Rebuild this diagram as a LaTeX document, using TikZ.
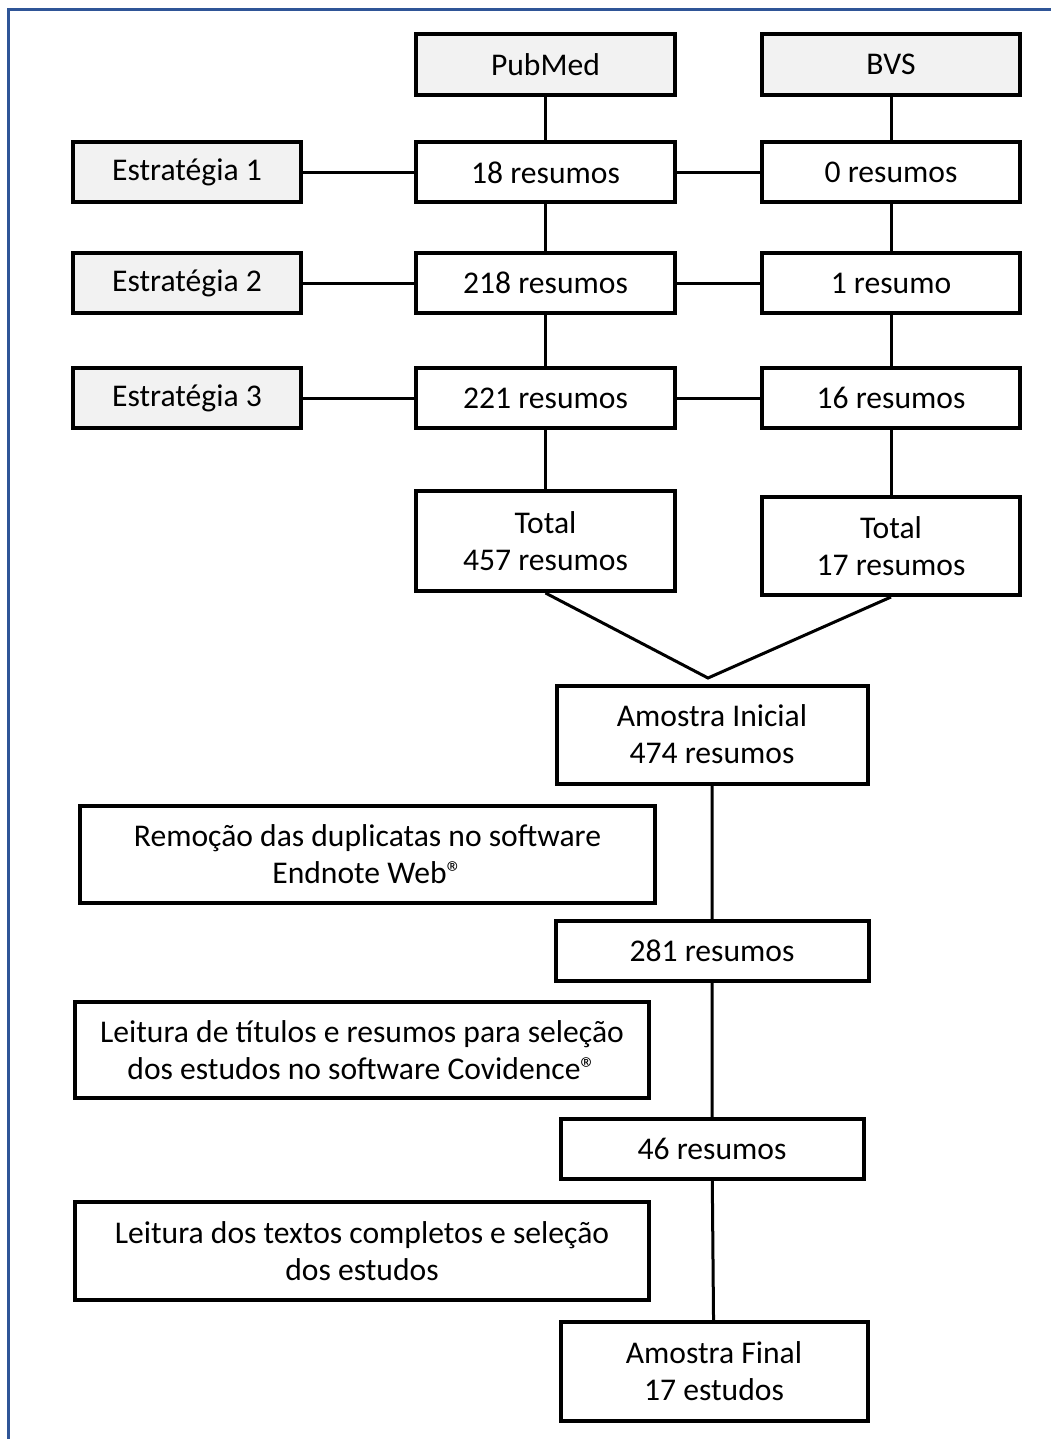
\documentclass[tikz,border=0pt]{standalone}
\usepackage{fontspec}
\setmainfont{Carlito}
\usepackage{tikz}
\definecolor{frameblue}{HTML}{2F5597}
\definecolor{basegray}{HTML}{F2F2F2}
\tikzstyle{box} = [draw=black, line width=2pt, fill=white, rectangle, align=center, inner sep=0pt,
,font=\fontsize{15.8}{18.6}\selectfont]
\tikzstyle{base} = [box, fill=basegray]
\tikzstyle{link} = [line width=1.5pt]

\begin{document}
\begin{tikzpicture}[x=0.5pt,y=-0.5pt]
                        \useasboundingbox (0,0) rectangle (1051,1439);
                        \draw[frameblue, line width=1.5pt] (8,1439) |- (1051,10);
                        % bases
                        \node[base, minimum width=129.5pt, minimum height=30.5pt] (pubmed)
                            at (545.5,64.5) {PubMed};
                        \node[base, minimum width=129pt, minimum height=30.5pt] (bvs)
                            at (891,64.5) {BVS};
                        % estrategias
                        \node[base, minimum width=114pt, minimum height=30pt] (est1)
                            at (187,172.5) {Estratégia 1};
                        \node[base, minimum width=114pt, minimum height=30pt] (est2)
                            at (187,283) {Estratégia 2};
                        \node[base, minimum width=114pt, minimum height=30pt] (est3)
                            at (187,398) {Estratégia 3};
                        \node[box, minimum width=129.5pt, minimum height=30pt] (pm1)
                            at (545.5,172.5) {18 resumos};
                        \node[box, minimum width=129.5pt, minimum height=30pt] (pm2)
                            at (545.5,283) {218 resumos};
                        \node[box, minimum width=129.5pt, minimum height=30pt] (pm3)
                            at (545.5,398) {221 resumos};
                        \node[box, minimum width=129pt, minimum height=30pt] (bvs1)
                            at (891,172.5) {0 resumos};
                        \node[box, minimum width=129pt, minimum height=30pt] (bvs2)
                            at (891,283) {1 resumo};
                        \node[box, minimum width=129pt, minimum height=30pt] (bvs3)
                            at (891,398) {16 resumos};
                        % totais
                        \node[box, minimum width=129.5pt, minimum height=50pt] (pmtot)
                            at (545.5,541) {Total \\ 457 resumos};
                        \node[box, minimum width=129pt, minimum height=49pt] (bvstot)
                            at (891,546) {Total \\ 17 resumos};
                        % selecao
                        \node[box, minimum width=155.5pt, minimum height=49pt] (ini)
                            at (712,734.5) {Amostra Inicial \\ 474 resumos};
                        \node[box, minimum width=287.5pt, minimum height=48.5pt] (remocao)
                            at (367.5,854.5) {Remoção das duplicatas no software \\ Endnote Web®};
                        \node[box, minimum width=156.5pt, minimum height=30pt] (n281)
                            at (712,951) {281 resumos};
                        \node[box, minimum width=287pt, minimum height=48pt] (leit1)
                            at (362,1050) {Leitura de títulos e resumos para seleção \\ dos estudos no software Covidence®};
                        \node[box, minimum width=151.5pt, minimum height=30pt] (n46)
                            at (712,1149) {46 resumos};
                        \node[box, minimum width=287pt, minimum height=49pt] (leit2)
                            at (362,1251) {Leitura dos textos completos e seleção \\ dos estudos};
                        \node[box, minimum width=153.5pt, minimum height=49.5pt] (final)
                            at (714,1371.5) {Amostra Final \\ 17 estudos};
                        \coordinate (vtip) at (708,678);
                        % ligacoes
                        \draw[link] (pubmed) -- (pm1) -- (pm2) -- (pm3) -- (pmtot);
                        \draw[link] (bvs) -- (bvs1) -- (bvs2) -- (bvs3) -- (bvstot);
                        \draw[link] (est1) -- (pm1) -- (bvs1);
                        \draw[link] (est2) -- (pm2) -- (bvs2);
                        \draw[link] (est3) -- (pm3) -- (bvs3);
                        \draw[link] (pmtot.south) -- (vtip) -- (bvstot.south);
                        \draw[link] (ini) -- (n281) -- (n46) -- (final);
                    \end{tikzpicture}
\end{document}
